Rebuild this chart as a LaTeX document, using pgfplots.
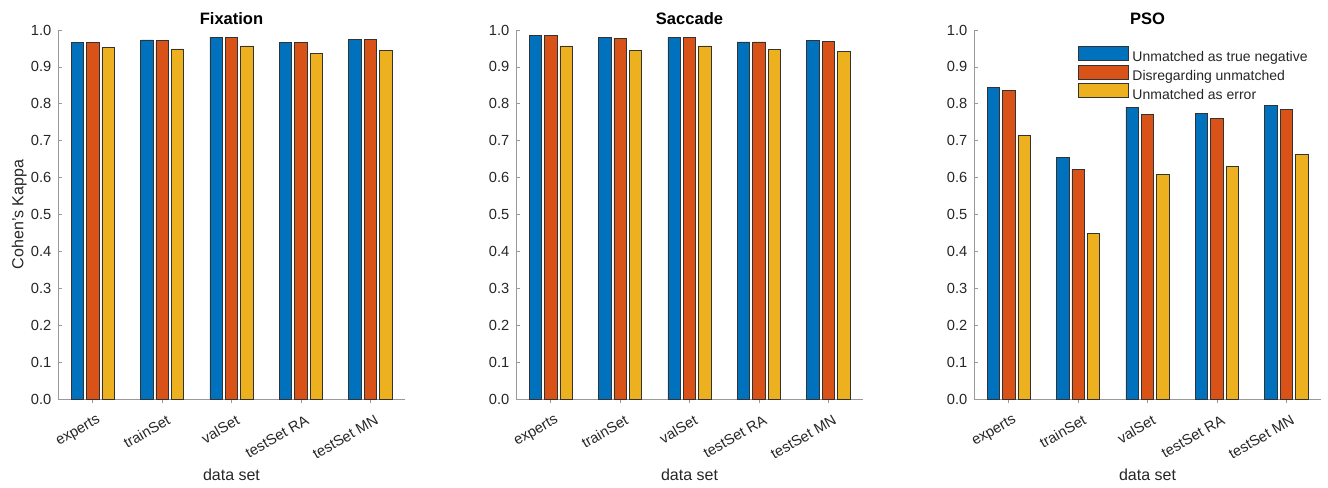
\documentclass[border=0pt]{standalone}
\usepackage{fontspec}
\setmainfont{Liberation Sans}
\usepackage{pgfplots}
\pgfplotsset{compat=1.18}

\definecolor{mblue}{rgb}{0,0.447,0.741}
\definecolor{morange}{rgb}{0.85,0.325,0.098}
\definecolor{myellow}{rgb}{0.929,0.694,0.125}
\definecolor{axgray}{rgb}{0.6,0.6,0.6}
\definecolor{txt}{rgb}{0.15,0.15,0.15}

\pgfplotsset{
  patchlegend/.style={legend image code/.code={\draw[##1] (0pt,-1.8pt) rectangle (37.5pt,8.7pt);}},
  kappa/.style={
    scale only axis, width=260.25pt, height=276.75pt,
    anchor=south west,
    xmin=0.5, xmax=5.5, ymin=0, ymax=1,
    axis x line*=bottom, axis y line*=left,
    axis line style={draw=axgray, line width=0.5pt, -},
    xtick={1,2,3,4,5},
    xticklabels={experts,trainSet,valSet,testSet RA,testSet MN},
    ytick={0,0.1,0.2,0.3,0.4,0.5,0.6,0.7,0.8,0.9,1.0},
    /pgf/number format/assume math mode=true,
    yticklabel style={/pgf/number format/fixed,
      /pgf/number format/fixed zerofill,
      /pgf/number format/precision=1, xshift=-1.5pt},
    tick align=inside, major tick length=3pt,
    tick style={draw=axgray, line width=0.5pt},
    ticklabel style={font=\fontsize{11}{13}\selectfont, text=txt},
    xticklabel style={inner sep=0pt, xshift=5pt, yshift=-12pt, rotate=30, anchor=east},
    title style={font=\bfseries\fontsize{12.4}{14}\selectfont, text=black,
      at={(axis description cs:0.5,1)}, anchor=base, yshift=-2pt},
    xlabel={data set},
    xlabel style={font=\fontsize{12}{14}\selectfont, text=txt,
      at={(axis description cs:0.5,0)}, anchor=base, yshift=-60.75pt},
    ybar, bar width=0.178,
    every axis plot/.append style={draw=black!80, line width=0.4pt},
  },
  s1/.style={fill=mblue, bar shift=-0.222, patchlegend},
  s2/.style={fill=morange, bar shift=0, patchlegend},
  s3/.style={fill=myellow, bar shift=0.222, patchlegend},
}

\begin{document}
\begin{tikzpicture}
\useasboundingbox (0,0) rectangle (996pt,365.25pt);

% Fixation
\begin{axis}[kappa, at={(43.5pt,66pt)}, title={Fixation},
  ylabel={Cohen's Kappa},
  ylabel style={font=\fontsize{12}{14}\selectfont, text=txt,
    at={(axis description cs:-0.1,0.5)}, anchor=base}]
\addplot[s1] coordinates {(1,0.967) (2,0.973) (3,0.980) (4,0.967) (5,0.975)};
\addplot[s2] coordinates {(1,0.966) (2,0.972) (3,0.979) (4,0.967) (5,0.975)};
\addplot[s3] coordinates {(1,0.952) (2,0.949) (3,0.957) (4,0.937) (5,0.944)};
\end{axis}

% Saccade
\begin{axis}[kappa, at={(387pt,66pt)}, title={Saccade}]
\addplot[s1] coordinates {(1,0.985) (2,0.980) (3,0.980) (4,0.968) (5,0.971)};
\addplot[s2] coordinates {(1,0.985) (2,0.978) (3,0.980) (4,0.968) (5,0.970)};
\addplot[s3] coordinates {(1,0.957) (2,0.944) (3,0.957) (4,0.947) (5,0.943)};
\end{axis}

% PSO
\begin{axis}[kappa, at={(730.5pt,66pt)}, title={PSO},
  legend cell align=left,
  legend style={at={(axis description cs:0.298,0.958)}, anchor=north west,
    draw=none, fill=none, inner sep=0pt, row sep=-0.6pt, column sep=2pt,
    nodes={inner sep=1.2pt, text=txt},
    font=\fontsize{10.5}{12}\selectfont}]
\addplot[s1] coordinates {(1,0.844) (2,0.655) (3,0.791) (4,0.774) (5,0.796)};
\addplot[s2] coordinates {(1,0.837) (2,0.622) (3,0.772) (4,0.761) (5,0.784)};
\addplot[s3] coordinates {(1,0.715) (2,0.448) (3,0.609) (4,0.631) (5,0.662)};
\legend{Unmatched as true negative, Disregarding unmatched, Unmatched as error}
\end{axis}
\end{tikzpicture}
\end{document}
